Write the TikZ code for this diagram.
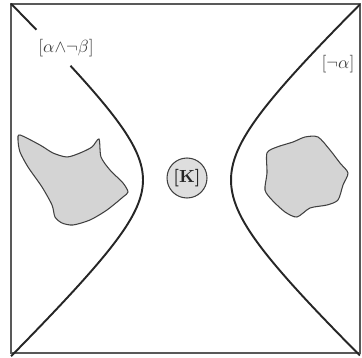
\documentclass[tikz,border=0pt]{standalone}
\usetikzlibrary{positioning}
\definecolor{blobGray}{RGB}{212,212,212}
\definecolor{kGray}{RGB}{222,222,222}
\begin{document}
\begin{tikzpicture}[x=0.02cm, y=-0.02cm,
    curve/.style={line width=1.1pt, black!85},
    blob/.style={draw=black!75, line width=0.6pt, fill=blobGray},
    lbl/.style={text=black!75, inner sep=1pt}]
    \useasboundingbox (0,0) rectangle (362,358);

    % Rahmen
    \draw[line width=1pt, black!65] (11,4) rectangle (360,353);

    % linke Kurve (mit Luecke fuer die Beschriftung)
    \draw[curve] plot[domain=-1.831:-1.68, samples=8] ({203-60*cosh(\x)}, {180+58*sinh(\x)});
    \draw[curve] plot[domain=-1.43:1.831, samples=60, smooth] ({203-60*cosh(\x)}, {180+58*sinh(\x)});
    \node[lbl] (lblab) at (66,48) {$[\alpha{\wedge}\neg\beta]$};

    % rechte Kurve
    \draw[curve] plot[domain=-1.7055:1.7055, samples=60, smooth] ({161+70*cosh(\x)}, {180+66*sinh(\x)});
    \node[lbl] (lbla) at (338,64) {$[\neg\alpha]$};

    % linkes Gebiet
    \draw[blob] plot[smooth cycle, tension=0.45] coordinates {
        (20,135) (40,145) (53,153) (67,157) (80,153) (92,147) (99,139)
        (101,157) (110,170) (123,183) (128,192) (123,197) (107,210)
        (90,220) (73,225) (62,223) (55,217) (52,205) (42,187)
        (28,167) (20,152) (18,140)};

    % rechtes Gebiet
    \draw[blob] plot[smooth cycle, tension=0.45] coordinates {
        (267,153) (277,147) (293,142) (305,137) (318,137) (330,150)
        (340,163) (348,173) (343,185) (338,200) (327,205) (310,208)
        (297,217) (285,212) (272,200) (265,190) (267,173)};

    % Modelle von K
    \node[circle, draw=black!75, line width=0.6pt, fill=kGray, minimum size=0.8cm,
          inner sep=0pt, text=black!85] (kset) at (187,178) {\textbf{[K]}};
\end{tikzpicture}
\end{document}
